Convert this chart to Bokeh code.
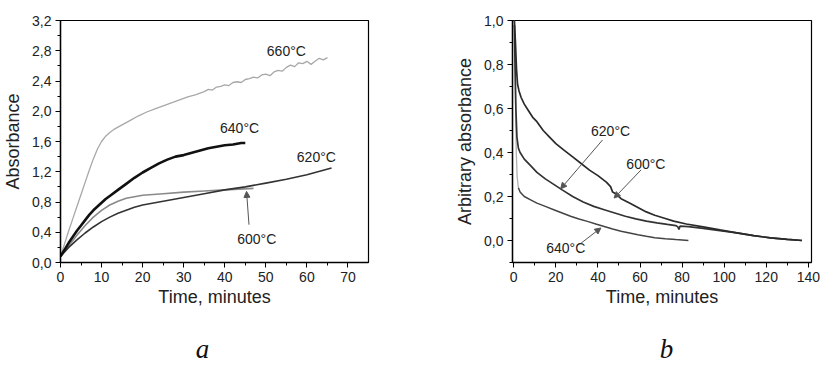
from bokeh.plotting import figure
from bokeh.layouts import row, column
from bokeh.models import (Range1d, CustomJSTickFormatter, FixedTicker, Arrow, NormalHead)
from bokeh.core.properties import value
from bokeh.embed import file_html
from bokeh.resources import INLINE

# ---------------- panel a data ----------------
t660 = [0, 1, 2, 3, 4, 5, 6, 7, 8, 9, 10, 11, 12, 13, 14, 15, 17, 19, 21, 23, 25, 27, 29, 31, 33,
        35, 36, 37, 38, 39, 40, 41, 42, 43, 44, 45, 46, 47, 48, 49, 50, 51, 52, 53, 54, 55, 56,
        57, 58, 59, 60, 61, 62, 63, 64, 65]
a660 = [0.08, 0.25, 0.42, 0.58, 0.74, 0.90, 1.06, 1.22, 1.37, 1.50, 1.60, 1.67, 1.72, 1.76, 1.79,
        1.82, 1.88, 1.94, 1.99, 2.03, 2.07, 2.11, 2.15, 2.19, 2.22,
        2.26, 2.29, 2.28, 2.32, 2.33, 2.35, 2.34, 2.38, 2.39, 2.38, 2.42, 2.43, 2.45, 2.44, 2.48,
        2.49, 2.47, 2.52, 2.54, 2.53, 2.58, 2.61, 2.59, 2.64, 2.63, 2.66, 2.62, 2.66, 2.70, 2.68, 2.71]

t640 = [0, 1, 2, 3, 4, 5, 6, 7, 8, 9, 10, 11, 12, 14, 16, 18, 20, 22, 24, 26, 28, 30, 32, 34, 36,
        38, 40, 42, 44, 45]
a640 = [0.08, 0.17, 0.26, 0.34, 0.42, 0.49, 0.56, 0.63, 0.69, 0.74, 0.79, 0.84, 0.88, 0.96, 1.04,
        1.12, 1.19, 1.25, 1.31, 1.36, 1.40, 1.42, 1.45, 1.48, 1.51, 1.53, 1.55, 1.56, 1.58, 1.58]

t620 = [0, 2, 4, 6, 8, 10, 12, 14, 16, 18, 20, 25, 30, 35, 40, 45, 50, 55, 60, 66]
a620 = [0.08, 0.20, 0.30, 0.39, 0.47, 0.54, 0.60, 0.65, 0.69, 0.73, 0.76, 0.81, 0.86, 0.91, 0.96,
        1.00, 1.05, 1.10, 1.16, 1.25]

t600 = [0, 2, 4, 6, 8, 10, 12, 14, 16, 18, 20, 25, 30, 35, 40, 47]
a600 = [0.08, 0.22, 0.36, 0.49, 0.60, 0.69, 0.76, 0.81, 0.85, 0.87, 0.89, 0.91, 0.93, 0.945, 0.96, 0.98]

# ---------------- panel b data ----------------
tb600 = [0.3, 0.8, 1.3, 1.8, 2.5, 3.5, 5, 7, 9, 11, 14, 17, 20, 24, 28, 32, 36, 40, 44, 46, 47, 48,
         51, 55, 59, 63, 67, 72, 76, 82, 90, 98, 106, 114, 122, 130, 137]
b600 = [1.0, 0.90, 0.78, 0.71, 0.68, 0.65, 0.62, 0.59, 0.56, 0.54, 0.50, 0.47, 0.44, 0.41, 0.38,
        0.35, 0.32, 0.295, 0.265, 0.245, 0.22, 0.215, 0.19, 0.17, 0.15, 0.13, 0.115, 0.10, 0.088,
        0.075, 0.062, 0.048, 0.035, 0.022, 0.012, 0.005, 0.0]

tb620 = [0.3, 0.6, 1.0, 1.5, 2.2, 3, 5, 8, 11, 15, 19, 23, 28, 33, 38, 43, 48, 53, 58, 63, 68, 73,
         77, 78, 78.5, 79, 83, 90, 98, 106, 114, 122, 130, 137]
b620 = [0.98, 0.80, 0.60, 0.47, 0.42, 0.40, 0.37, 0.34, 0.31, 0.28, 0.255, 0.23, 0.20, 0.175,
        0.155, 0.14, 0.125, 0.11, 0.098, 0.088, 0.08, 0.073, 0.068, 0.062, 0.05, 0.065, 0.063,
        0.055, 0.045, 0.035, 0.022, 0.012, 0.005, 0.0]

tb640 = [0.3, 0.6, 0.9, 1.2, 1.6, 2.2, 3, 5, 8, 11, 15, 19, 23, 27, 31, 35, 39, 43, 47, 51, 55,
         59, 63, 67, 72, 77, 83]
b640 = [1.0, 0.85, 0.60, 0.40, 0.29, 0.24, 0.22, 0.20, 0.185, 0.17, 0.155, 0.14, 0.125, 0.11,
        0.098, 0.087, 0.075, 0.064, 0.052, 0.042, 0.034, 0.026, 0.019, 0.013, 0.008, 0.004, 0.0]

labels_a = ["660°C", "640°C", "620°C", "600°C"]
labels_b = ["620°C", "600°C", "640°C"]
captions = ["a", "b"]

FONT = "Liberation Sans"
comma = CustomJSTickFormatter(code="return tick.toFixed(1).replace('.', ',');")


def style(p, xlabel, ylabel):
    p.xgrid.visible = False
    p.ygrid.visible = False
    p.outline_line_color = "black"
    p.outline_line_width = 1.2
    p.background_fill_color = "white"
    p.border_fill_color = "white"
    for ax in (p.xaxis[0], p.yaxis[0]):
        ax.axis_line_color = "black"
        ax.axis_line_width = 1.4
        ax.major_tick_in = 0
        ax.major_tick_out = 5
        ax.minor_tick_in = 0
        ax.minor_tick_out = 3
        ax.major_tick_line_color = "black"
        ax.minor_tick_line_color = "black"
        ax.major_label_text_font = FONT
        ax.major_label_text_font_size = "14px"
        ax.major_label_text_color = "#222222"
        ax.major_label_standoff = 4
        ax.axis_label_text_font = FONT
        ax.axis_label_text_font_size = "18px"
        ax.axis_label_text_font_style = "normal"
        ax.axis_label_text_color = "#222222"
    p.xaxis.axis_label = xlabel
    p.yaxis.axis_label = ylabel
    p.xaxis.axis_label_standoff = 2
    p.yaxis.axis_label_standoff = 6
    p.yaxis.formatter = comma


def caption_fig(width, text, xc, size):
    c = figure(width=width, height=50, output_backend="svg", toolbar_location=None,
               x_range=Range1d(0, width), y_range=Range1d(0, 50),
               min_border=0, outline_line_color=None, x_axis_type=None, y_axis_type=None)
    c.grid.visible = False
    c.text(x=[xc], y=[17], text=[text], text_font=value("Liberation Serif"),
           text_font_style="italic", text_font_size=size, text_color="#111111",
           text_align="center", text_baseline="middle")
    return c


# ---------------- panel a ----------------
pa = figure(width=411, height=315, output_backend="svg", toolbar_location=None,
            x_range=Range1d(0, 75), y_range=Range1d(0, 3.2),
            min_border_left=59, min_border_right=43, min_border_top=12, min_border_bottom=53)
style(pa, "Time, minutes", "Absorbance")
pa.xaxis.ticker = FixedTicker(ticks=[0, 10, 20, 30, 40, 50, 60, 70],
                              minor_ticks=[5, 15, 25, 35, 45, 55, 65])
pa.yaxis.ticker = FixedTicker(ticks=[0, 0.4, 0.8, 1.2, 1.6, 2.0, 2.4, 2.8, 3.2],
                              minor_ticks=[0.2, 0.6, 1.0, 1.4, 1.8, 2.2, 2.6, 3.0])

pa.line(t660, a660, line_color="#a8a8a8", line_width=1.3)
pa.line(t600, a600, line_color="#8a8a8a", line_width=1.6)
pa.line(t620, a620, line_color="#333333", line_width=1.6)
pa.line(t640, a640, line_color="#111111", line_width=2.6)

pa.text(x=[55, 43.6, 62.3, 47.8], y=[2.80, 1.78, 1.39, 0.31], text=labels_a,
        text_font=value(FONT), text_font_size="14px", text_color="#222222",
        text_align="center", text_baseline="middle")
pa.add_layout(Arrow(x_start=45.9, y_start=0.50, x_end=45.3, y_end=0.94,
                    line_color="#555555", line_width=1,
                    end=NormalHead(size=6, fill_color="#555555", line_color="#555555")))

# ---------------- panel b ----------------
pb = figure(width=412, height=315, output_backend="svg", toolbar_location=None,
            x_range=Range1d(-0.6, 141.5), y_range=Range1d(-0.1, 1.0),
            min_border_left=101, min_border_right=12, min_border_top=20, min_border_bottom=52)
style(pb, "Time, minutes", "Arbitrary absorbance")
pb.xaxis.ticker = FixedTicker(ticks=[0, 20, 40, 60, 80, 100, 120, 140],
                              minor_ticks=[10, 30, 50, 70, 90, 110, 130])
pb.yaxis.ticker = FixedTicker(ticks=[0, 0.2, 0.4, 0.6, 0.8, 1.0],
                              minor_ticks=[-0.1, 0.1, 0.3, 0.5, 0.7, 0.9])

pb.line(tb640[:6], b640[:6], line_color="#b0b0b0", line_width=1.3)
pb.line(tb640[5:], b640[5:], line_color="#444444", line_width=1.5)
pb.line(tb620, b620, line_color="#333333", line_width=1.7)
pb.line(tb600, b600, line_color="#2a2a2a", line_width=1.7)

pb.text(x=[46, 62.8, 24.7], y=[0.50, 0.35, -0.033], text=labels_b,
        text_font=value(FONT), text_font_size="14px", text_color="#222222",
        text_align="center", text_baseline="middle")
for xs, ys, xe, ye in [(42.2, 0.457, 22.3, 0.235), (60.5, 0.321, 47.7, 0.193),
                       (32.0, -0.012, 41.4, 0.057)]:
    pb.add_layout(Arrow(x_start=xs, y_start=ys, x_end=xe, y_end=ye,
                        line_color="#555555", line_width=1,
                        end=NormalHead(size=6, fill_color="#555555", line_color="#555555")))

ca = caption_fig(411, captions[0], 202, "27px")
cb = caption_fig(412, captions[1], 255, "27px")

layout = column(row(pa, pb), row(ca, cb))
open("out.html", "w").write(file_html(layout, INLINE))
